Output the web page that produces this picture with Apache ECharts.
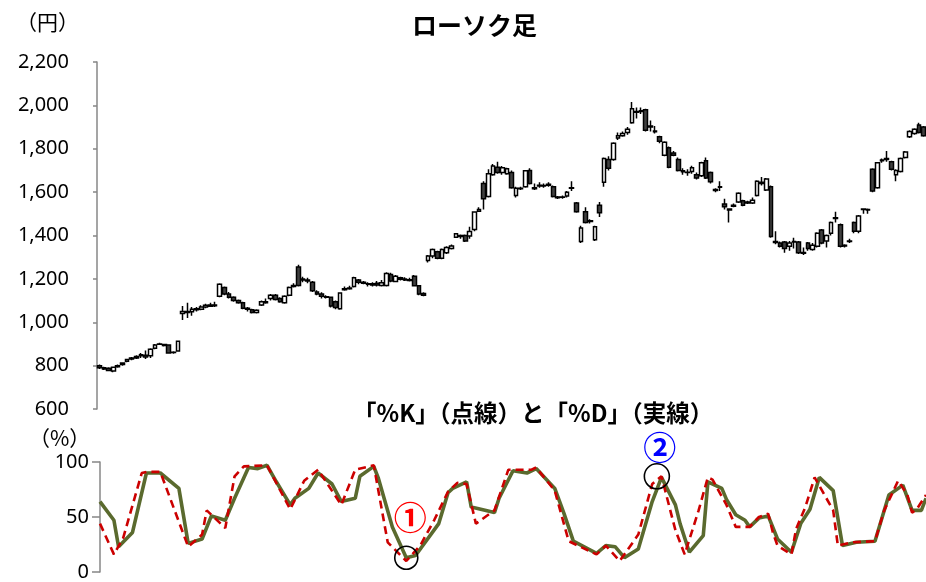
<!DOCTYPE html>
<html><head><meta charset="utf-8">
<script src="https://cdn.jsdelivr.net/npm/echarts@6/dist/echarts.min.js"></script>
<style>html,body{margin:0;padding:0;background:#fff}#c{width:926px;height:582px}</style>
</head><body><div id="c"></div>
<script>
// Candle data (yen): open / close / low / high
const opens  = [800,790,788,775,795,805,820,830,835,845,848,845,880,898,897,895,860,868,
 1040,1050,1048,1062,1060,1070,1074,1080,1120,1160,1130,1115,1100,1090,1065,1058,1045,1080,1095,1110,1125,1110,1090,1125,1170,1255,
 1200,1195,1185,1140,1130,1118,1115,1095,1062,1150,1155,1165,1195,1185,1178,1172,1180,1170,1170,1220,1188,1205,1200,1196,1212,1168,1132,
 1285,1305,1325,1295,1320,1340,1392,1400,1400,1398,1428,1512,1640,1580,1680,
 1715,1690,1685,1690,1585,1615,1625,1700,1620,1628,1630,1632,1625,1578,1576,1582,1620,1550,1372,1510,1468,1380,1540,
 1645,1750,1750,1850,1860,1875,1920,1968,1975,1980,1905,1882,1855,1770,1805,1780,1750,1698,1692,1695,1680,1675,1745,
 1690,1612,1625,1545,1522,1540,1555,1560,1555,1550,1585,1645,1610,1625,1372,1365,1370,1350,1370,1370,1322,1365,1335,1350,1425,1375,1410,1478,1450,1355,1375,1460,1420,1520,1520,1705,1620,1745,1755,1740,1680,1695,1760,1855,1870,1910,1900];
const closes = [790,785,778,792,800,812,828,835,842,850,840,875,895,900,893,858,862,912,
 1050,1045,1060,1058,1070,1078,1080,1076,1175,1130,1115,1100,1090,1065,1060,1045,1055,1095,1090,1125,1105,1095,1120,1160,1165,1170,
 1195,1190,1145,1130,1120,1115,1075,1068,1135,1155,1158,1205,1185,1180,1175,1178,1172,1182,1225,1190,1212,1198,1195,1192,1168,1130,1125,
 1305,1335,1295,1335,1345,1352,1408,1395,1375,1418,1508,1520,1570,1685,1720,
 1690,1712,1708,1620,1618,1618,1698,1640,1615,1632,1628,1636,1580,1574,1578,1600,1618,1510,1435,1460,1465,1440,1505,
 1755,1710,1825,1860,1870,1890,1985,1972,1972,1885,1900,1878,1835,1830,1715,1770,1700,1694,1690,1712,1665,1735,1665,
 1648,1608,1622,1532,1518,1535,1595,1540,1550,1562,1650,1640,1660,1395,1368,1350,1340,1365,1372,1320,1318,1340,1355,1410,1365,1400,1460,1482,1350,1352,1372,1420,1490,1522,1518,1605,1735,1748,1750,1705,1700,1755,1785,1880,1890,1875,1860];
const lows   = [785,780,775,770,790,800,815,825,830,835,830,835,875,895,888,855,855,865,
 1010,1020,1030,1050,1055,1065,1070,1070,1115,1125,1110,1095,1085,1060,1050,1040,1040,1075,1085,1100,1100,1090,1085,1120,1160,1165,
 1185,1180,1140,1125,1110,1110,1068,1060,1058,1145,1150,1160,1175,1175,1165,1165,1165,1165,1165,1185,1185,1192,1190,1188,1165,1125,1120,
 1275,1295,1290,1290,1315,1335,1388,1385,1370,1385,1420,1508,1520,1575,1675,
 1685,1680,1680,1615,1575,1610,1620,1635,1610,1620,1620,1625,1575,1568,1570,1575,1605,1505,1365,1455,1455,1375,1485,
 1625,1700,1745,1840,1855,1865,1915,1940,1960,1880,1880,1870,1825,1765,1710,1765,1695,1680,1675,1685,1658,1670,1660,
 1640,1600,1605,1520,1460,1530,1550,1535,1545,1545,1580,1630,1605,1390,1360,1345,1320,1330,1340,1315,1310,1330,1330,1345,1360,1345,1400,1460,1345,1345,1365,1410,1410,1500,1500,1600,1615,1735,1740,1700,1650,1690,1755,1850,1865,1870,1855];
const highs  = [805,795,792,795,805,815,832,840,848,858,870,880,900,905,900,898,866,915,
 1075,1090,1070,1070,1078,1085,1090,1095,1180,1165,1140,1120,1105,1095,1070,1062,1060,1100,1110,1130,1130,1115,1125,1165,1180,1265,
 1210,1205,1190,1148,1138,1125,1118,1100,1138,1165,1168,1210,1200,1190,1185,1185,1190,1195,1230,1228,1218,1210,1208,1205,1218,1172,1138,
 1310,1340,1330,1340,1350,1358,1412,1405,1405,1440,1512,1530,1650,1705,1730,
 1740,1720,1712,1700,1625,1625,1702,1710,1640,1645,1640,1645,1630,1582,1585,1605,1650,1555,1445,1530,1475,1445,1555,
 1760,1765,1830,1875,1880,1900,2015,1990,1990,1985,1930,1905,1860,1835,1810,1790,1760,1710,1705,1722,1690,1740,1760,
 1695,1618,1650,1570,1525,1548,1600,1565,1560,1575,1655,1670,1665,1630,1420,1372,1375,1375,1390,1375,1345,1370,1365,1415,1430,1405,1465,1510,1455,1360,1385,1465,1495,1525,1525,1710,1738,1755,1790,1745,1705,1760,1790,1885,1895,1920,1905];

// Stochastic: %D (solid) and %K (dashed) vertices, by trading-day index
const dDay = [0,3,4,7,10,13,17,19,22,24,27,29,32,34,36,38,41,42,45,47,50,52,55,56,59,60,63,66,68,73,75,76,79,80,85,86,89,92,94,98,100,102,107,109,111,113,116,119,121,124,125,127,130,131,134,135,137,139,140,142,144,146,149,151,153,155,158,160,163,167,170,173,175,177,178];
const dVal = [64,47,23,36,90,90,76,26,30,51,47,67,95,94,97,82,61,67,76,90,80,64,67,87,96,85,41,13,15,44,72,76,82,59,54,67,92,90,94,76,53,28,17,24,23,13,21,64,86,61,44,18,33,82,76,66,52,47,41,49,51,30,18,44,57,86,74,24,27,28,70,79,56,56,67];
const kDay = [0,3,5,9,10,13,19,22,23,27,29,31,36,41,44,47,52,55,59,62,66,69,72,75,77,79,81,85,88,91,93,94,98,101,107,109,112,116,119,121,124,126,129,131,132,135,137,140,142,144,145,146,149,150,152,154,158,159,162,167,169,172,174,175,176,178];
const kVal = [44,16,31,90,91,91,23,34,56,40,87,96,97,57,83,93,61,93,97,27,10,24,47,73,81,80,44,56,93,93,93,95,74,28,16,24,10,34,80,87,38,16,56,86,84,61,41,41,50,53,36,24,16,39,59,86,56,24,27,28,56,83,70,54,57,70];

const priceTicks = {min:600, max:2200, interval:200};
const pctTicks = {min:0, max:100, interval:50};

const n = opens.length;
const cats = Array.from({length:n}, (_, i) => String(i));
const candleData = opens.map((o, i) => [o, closes[i], lows[i], highs[i]]);
const dData = dDay.map((d, i) => [d, dVal[i]]);
const kData = kDay.map((d, i) => [d, kVal[i]]);

const axisGray = '#878787';
const jp = 'Noto Sans CJK JP';
const chart = echarts.init(document.getElementById('c'), null, {renderer:'canvas'});
chart.setOption({
  animation: false,
  backgroundColor: '#fff',
  title: [
    {text:'ローソク足', left:407, top:8, textStyle:{fontFamily:jp, fontSize:25, fontWeight:'bold', color:'#000'}},
    {text:'（円）', left:11, top:7, textStyle:{fontFamily:jp, fontSize:21, fontWeight:'normal', color:'#000'}},
    {text:'「%K」（点線）と「%D」（実線）', left:348, top:396, textStyle:{fontFamily:jp, fontSize:23.5, fontWeight:'bold', color:'#000'}},
    {text:'（%）', left:24, top:423, textStyle:{fontFamily:jp, fontSize:21, fontWeight:'normal', color:'#000'}}
  ],
  grid: [
    {left:97, top:62, width:829, height:347},
    {left:100, top:462, width:826, height:116}
  ],
  xAxis: [
    {type:'category', gridIndex:0, data:cats, boundaryGap:true, show:false},
    {type:'category', gridIndex:1, data:cats, boundaryGap:false, show:false}
  ],
  yAxis: [
    {type:'value', gridIndex:0, min:priceTicks.min, max:priceTicks.max, interval:priceTicks.interval,
     axisLine:{show:true, lineStyle:{color:axisGray, width:1.5}},
     axisTick:{show:true, length:4, lineStyle:{color:axisGray, width:1.5}},
     splitLine:{show:false},
     axisLabel:{margin:28, color:'#000', fontSize:20, fontFamily:'Noto Sans',
       formatter: v => v.toLocaleString('en-US')}},
    {type:'value', gridIndex:1, min:pctTicks.min, max:pctTicks.max, interval:pctTicks.interval,
     axisLine:{show:true, lineStyle:{color:axisGray, width:1.5}},
     axisTick:{show:true, length:8, lineStyle:{color:axisGray, width:1.5}},
     splitLine:{show:false},
     axisLabel:{margin:11, color:'#000', fontSize:20, fontFamily:'Noto Sans'}}
  ],
  series: [
    {type:'candlestick', xAxisIndex:0, yAxisIndex:0, data:candleData, barWidth:4.2,
     itemStyle:{color:'#ffffff', color0:'#404040', borderColor:'#000', borderColor0:'#000', borderWidth:1.5}},
    {type:'line', xAxisIndex:1, yAxisIndex:1, data:kData, symbol:'none', z:3,
     lineStyle:{color:'#CC0000', width:2.6, type:[8,5]}},
    {type:'line', xAxisIndex:1, yAxisIndex:1, data:dData, symbol:'none', z:2,
     lineStyle:{color:'#5A6A2E', width:3.6},
     markPoint:{
       symbol:'circle',
       data:[
         {coord:[66,13], symbolSize:23, itemStyle:{color:'rgba(0,0,0,0)', borderColor:'#000', borderWidth:1.6}, label:{show:false}},
         {coord:[120,87], symbolSize:25, itemStyle:{color:'rgba(0,0,0,0)', borderColor:'#000', borderWidth:1.6}, label:{show:false}},
         {coord:[66,13], symbolSize:1, itemStyle:{color:'rgba(0,0,0,0)'},
          label:{show:true, position:'inside', formatter:'①', offset:[4,-40], color:'#FF0000', fontSize:33, fontWeight:'bold', fontFamily:jp}},
         {coord:[120,87], symbolSize:1, itemStyle:{color:'rgba(0,0,0,0)'},
          label:{show:true, position:'inside', formatter:'②', offset:[3,-29], color:'#0000FF', fontSize:33, fontWeight:'bold', fontFamily:jp}}
       ]
     }}
  ]
});
</script></body></html>
